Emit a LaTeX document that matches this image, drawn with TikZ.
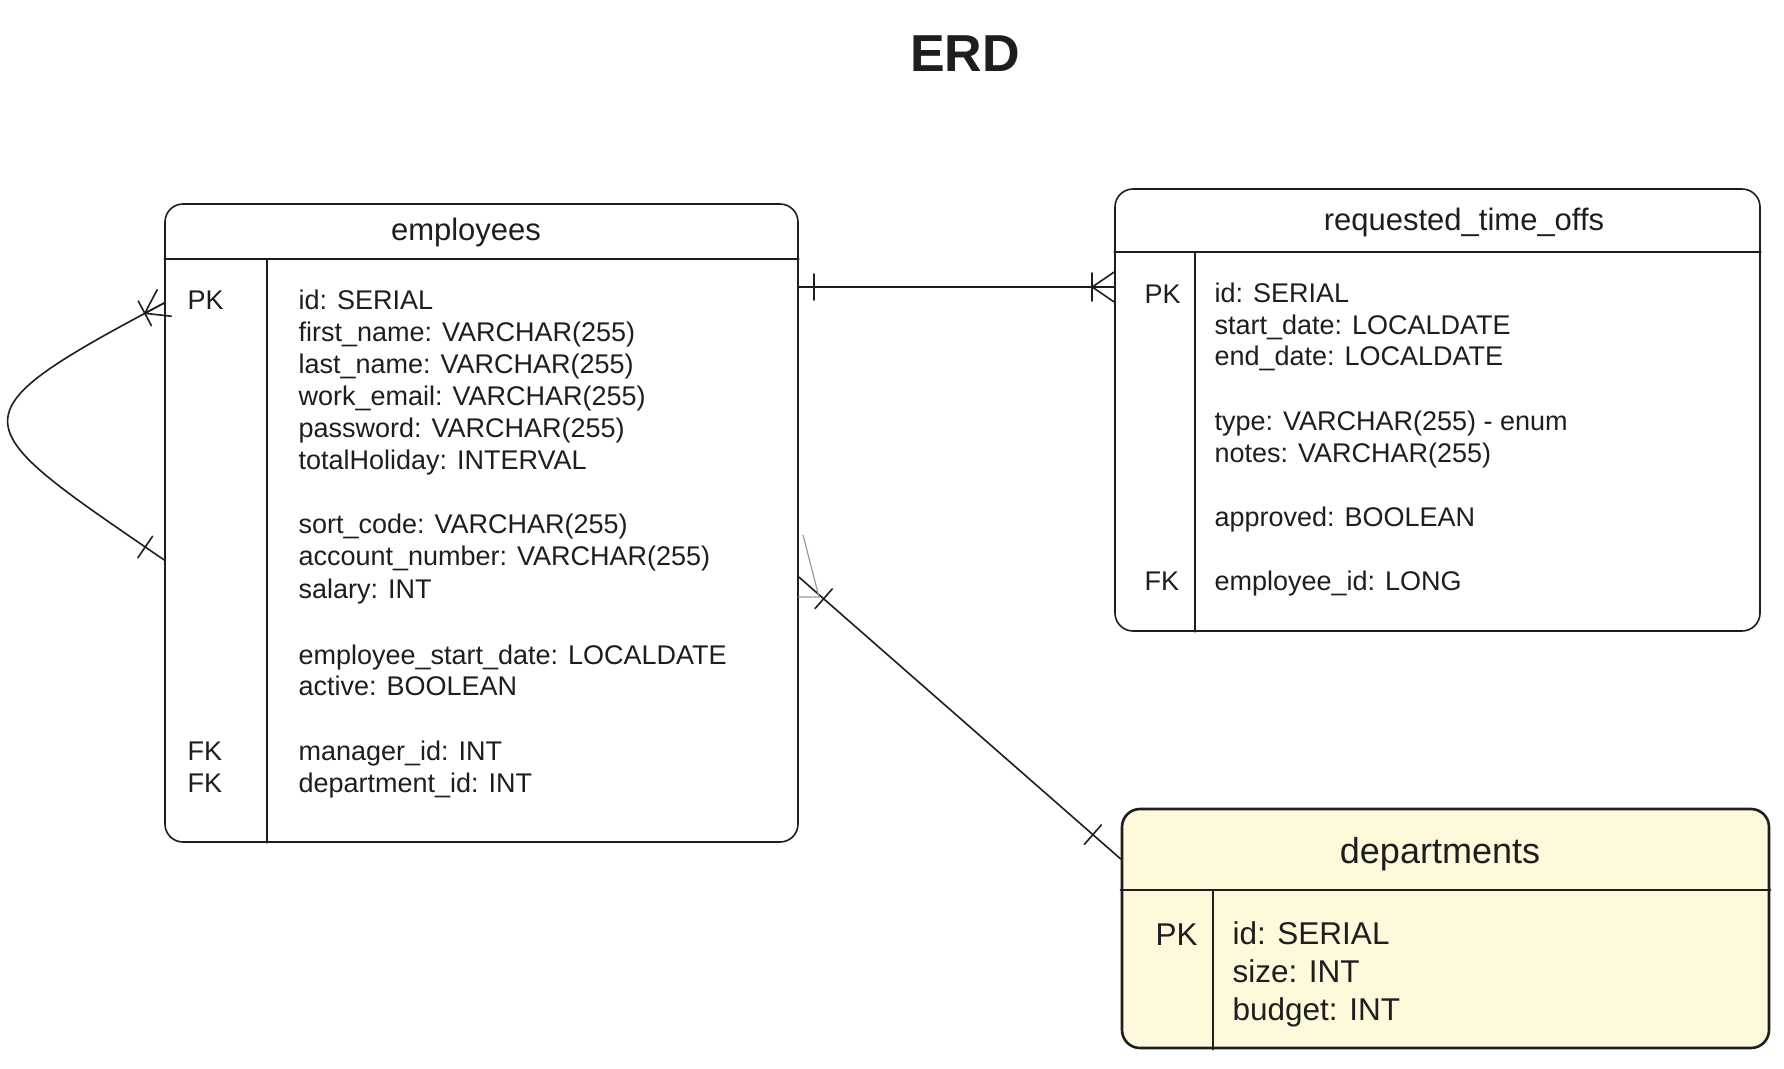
\documentclass[tikz,border=0pt]{standalone}
\usepackage{fontspec}
\setmainfont{Liberation Sans}
\usepackage{tikz}
\usetikzlibrary{decorations.markings}
\definecolor{erdInk}{HTML}{1E1E1E}
\definecolor{erdNote}{HTML}{FFF9DB}
\definecolor{erdGhost}{HTML}{9A9A9A}
\tikzset{
  erd diagram/.style={x=1pt, y=-1pt, text=erdInk,
    line cap=round, line join=round},
  erd table/.style={draw=erdInk, fill=white, line width=1.6pt,
    rounded corners=18pt, inner sep=0pt},
  erd key table/.style={erd table, fill=erdNote, line width=2.6pt},
  erd line/.style={draw=erdInk, line width=1.6pt},
  erd ghost/.style={draw=erdGhost, line width=1.2pt},
  erd title/.style={anchor=base, font=\fontsize{31}{36}\selectfont},
  erd field/.style={anchor=base west, font=\fontsize{27}{32}\selectfont},
  erd big field/.style={anchor=base west, font=\fontsize{31.5}{38}\selectfont},
  erd one start/.style={postaction={decorate, decoration={markings,
    mark=at position #1 with {\draw[erd line] (0,-13) -- (0,13);}}}},
  erd one start/.default=16pt,
  erd one end/.style={postaction={decorate, decoration={markings,
    mark=at position -#1 with {\draw[erd line] (0,-13) -- (0,13);}}}},
  erd one end/.default=16pt,
  erd many end/.style={postaction={decorate, decoration={markings,
    mark=at position -0.5pt with {
      \draw[erd line] (-21.5,-14) -- (-21.5,14);
      \draw[erd line] (0.5,-15) -- (-21.5,0) -- (0.5,15) (-21.5,0) -- (0.5,0);}}}}
}

\begin{document}
\begin{tikzpicture}[erd diagram]
\path[use as bounding box, fill=white] (0,0) rectangle (1784,1068);
\node[anchor=base, font=\fontsize{52}{60}\selectfont\bfseries] (erd) at (965,71) {ERD};

% tables
\node[erd table, minimum width=633pt, minimum height=638pt] (employees) at (481.5,523) {};
\node[erd table, minimum width=645pt, minimum height=442pt] (requested) at (1437.5,410) {};
\node[erd key table, minimum width=647pt, minimum height=239pt] (departments) at (1445.5,928.5) {};

\draw[erd line] (employees.west |- 0,259) -- (employees.east |- 0,259);
\draw[erd line] (267,259) -- (employees.south -| 267,0);
\draw[erd line] (requested.west |- 0,252) -- (requested.east |- 0,252);
\draw[erd line] (1195,252) -- (requested.south -| 1195,0);
\draw[erd line, line width=2.2pt] (departments.west |- 0,890) -- (departments.east |- 0,890);
\draw[erd line, line width=2.2pt] (1213,890) -- (departments.south -| 1213,0);

\node[erd title] (employees title) at (466,240) {employees};
\node[erd title] (requested title) at (1464,230) {requested\_time\_offs};
\node[erd title, font=\fontsize{36}{42}\selectfont] (departments title) at (1440,863) {departments};

% employees
\node[erd field] (emp pk) at (184,309) {PK};
\node[erd field] (emp fk1) at (184,760) {FK};
\node[erd field] (emp fk2) at (184,792) {FK};
\foreach \y/\t [count=\i] in {309/{id: SERIAL}, 341/{first\_name: VARCHAR(255)},
    373/{last\_name: VARCHAR(255)}, 405/{work\_email: VARCHAR(255)},
    437/{password: VARCHAR(255)}, 469/{totalHoliday: INTERVAL},
    533/{sort\_code: VARCHAR(255)}, 565/{account\_number: VARCHAR(255)},
    598/{salary: INT}, 664/{employee\_start\_date: LOCALDATE},
    695/{active: BOOLEAN}, 760/{manager\_id: INT}, 792/{department\_id: INT}}
  \node[erd field] (emp field \i) at (295,\y) {\t};

% requested_time_offs
\node[erd field] (rto pk) at (1141,303) {PK};
\node[erd field] (rto fk) at (1141,590) {FK};
\foreach \y/\t [count=\i] in {302/{id: SERIAL}, 334/{start\_date: LOCALDATE},
    365/{end\_date: LOCALDATE}, 430/{type: VARCHAR(255) - enum},
    462/{notes: VARCHAR(255)}, 526/{approved: BOOLEAN},
    590/{employee\_id: LONG}}
  \node[erd field] (rto field \i) at (1211,\y) {\t};

% departments
\node[erd big field] (dep pk) at (1152,945) {PK};
\foreach \y/\t [count=\i] in {944/{id: SERIAL}, 982/{size: INT}, 1020/{budget: INT}}
  \node[erd big field] (dep field \i) at (1229,\y) {\t};

% relations
\coordinate (emp loop out) at (employees.west |- 0,560);
\coordinate (emp loop in) at (employees.west |- 0,303);
\draw[erd line, erd one start=23pt, erd many end]
  (emp loop out) .. controls (-37,422) and (-52,418) .. (emp loop in);

\coordinate (emp rto) at (employees.east |- 0,287);
\coordinate (rto emp) at (requested.west |- 0,287);
\draw[erd line, line width=2.2pt, erd one start=15pt, erd many end] (emp rto) -- (rto emp);

\coordinate (emp dep) at (employees.east |- 0,577);
\coordinate (dep emp) at (departments.west |- 0,859);
\draw[erd line, erd one start=33pt, erd one end=37pt] (emp dep) -- (dep emp);
\draw[erd ghost] (803,535) -- (819,597) -- (emp dep |- 0,597);
\end{tikzpicture}
\end{document}
